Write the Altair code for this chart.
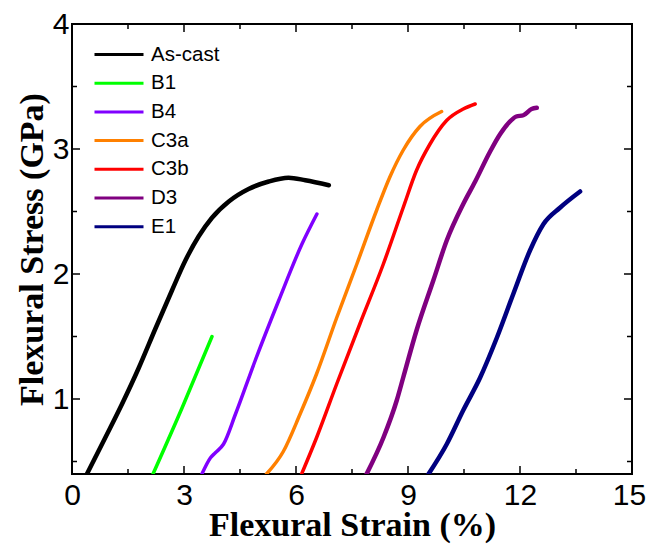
import altair as alt
import pandas as pd

series_names = ["As-cast", "B1", "B4", "C3a", "C3b", "D3", "E1"]
series_colors = ["#000000", "#00FF00", "#8000FF", "#FF8000", "#FF0000", "#800080", "#000080"]
series_widths = [4.5, 3.5, 3.5, 3.5, 3.5, 4.5, 4.5]

ascast_x = [0.40, 0.89, 1.34, 1.79, 2.23, 2.68, 3.04, 3.39, 3.75, 4.20, 4.73, 5.27, 5.80, 6.25, 6.88]
ascast_y = [0.40, 0.69, 0.96, 1.25, 1.56, 1.87, 2.11, 2.30, 2.45, 2.58, 2.68, 2.74, 2.77, 2.75, 2.71]

b1_x = [2.17, 2.95, 3.75]
b1_y = [0.40, 0.93, 1.50]

b4_x = [3.48, 3.71, 3.84, 4.06, 4.38, 4.91, 5.54, 6.16, 6.56]
b4_y = [0.40, 0.53, 0.57, 0.64, 0.88, 1.31, 1.79, 2.24, 2.48]

c3a_x = [5.21, 5.66, 6.11, 6.55, 7.09, 7.63, 8.16, 8.52, 8.87, 9.32, 9.90]
c3a_y = [0.40, 0.58, 0.88, 1.20, 1.65, 2.08, 2.51, 2.78, 2.99, 3.18, 3.30]

c3b_x = [6.15, 6.55, 7.09, 7.71, 8.34, 8.87, 9.23, 9.59, 10.04, 10.48, 10.80]
c3b_y = [0.40, 0.69, 1.12, 1.60, 2.08, 2.53, 2.83, 3.04, 3.23, 3.32, 3.36]

d3_x = [7.89, 8.34, 8.70, 8.87, 9.23, 9.68, 10.04, 10.48, 10.80, 11.20, 11.47, 11.70, 11.90, 12.09, 12.31, 12.45]
d3_y = [0.40, 0.69, 0.99, 1.17, 1.55, 1.95, 2.27, 2.56, 2.74, 2.98, 3.12, 3.21, 3.26, 3.27, 3.32, 3.33]

e1_x = [9.55, 10.04, 10.48, 10.93, 11.38, 11.82, 12.27, 12.63, 13.07, 13.61]
e1_y = [0.40, 0.64, 0.91, 1.17, 1.49, 1.84, 2.19, 2.40, 2.53, 2.66]

x_major = [0, 3, 6, 9, 12, 15]
x_minor = [1.5, 4.5, 7.5, 10.5, 13.5]
y_major = [1, 2, 3, 4]
y_minor = [0.5, 1.5, 2.5, 3.5]

W, H = 560, 450

all_x = [ascast_x, b1_x, b4_x, c3a_x, c3b_x, d3_x, e1_x]
all_y = [ascast_y, b1_y, b4_y, c3a_y, c3b_y, d3_y, e1_y]
rows = []
for name, w, xs, ys in zip(series_names, series_widths, all_x, all_y):
    for i, (xv, yv) in enumerate(zip(xs, ys)):
        rows.append({"series": name, "strain": xv, "stress": yv, "idx": i, "sw": w})
df = pd.DataFrame(rows)

xscale = alt.Scale(domain=[0, 15], nice=False, zero=False)
yscale = alt.Scale(domain=[0.4, 4], nice=False, zero=False)

lines = alt.Chart(df).mark_line(interpolate="monotone", clip=True, strokeCap="round").encode(
    x=alt.X("strain:Q", scale=xscale,
            axis=alt.Axis(values=x_major, format="d", title="Flexural Strain (%)",
                          titleX=W / 2, titleY=61, titleBaseline="alphabetic",
                          labelOffset={"condition": {"test": "datum.value == 15", "value": -3},
                                       "value": 0})),
    y=alt.Y("stress:Q", scale=yscale,
            axis=alt.Axis(values=y_major, format="d", title="Flexural Stress (GPa)",
                          titleX=-30, titleY=H / 2, titleAngle=270,
                          titleBaseline="alphabetic", titleAlign="center")),
    color=alt.Color("series:N",
                    scale=alt.Scale(domain=series_names, range=series_colors),
                    legend=alt.Legend(title=None, orient="none", legendX=35.5, legendY=19,
                                      symbolType="M-2.45,0H2.45", symbolSize=400,
                                      symbolStrokeWidth=3, labelOffset=20.5,
                                      labelFont="Liberation Sans", labelFontSize=20.5,
                                      labelColor="black", rowPadding=6.7, padding=0)),
    strokeWidth=alt.StrokeWidth("sw:Q", scale=None),
    order="idx:Q",
)

tx_major = pd.DataFrame({"v": x_major})
tx_minor = pd.DataFrame({"v": x_minor})
ty_major = pd.DataFrame({"v": y_major})
ty_minor = pd.DataFrame({"v": y_minor})


def xticks(d, length):
    bottom = alt.Chart(d).mark_rule(color="black", strokeWidth=1.5).encode(
        x=alt.X("v:Q", scale=xscale), y=alt.value(H), y2=alt.value(H - length))
    top = alt.Chart(d).mark_rule(color="black", strokeWidth=1.5).encode(
        x=alt.X("v:Q", scale=xscale), y=alt.value(0), y2=alt.value(length))
    return bottom + top


def yticks(d, length):
    left = alt.Chart(d).mark_rule(color="black", strokeWidth=1.5).encode(
        y=alt.Y("v:Q", scale=yscale), x=alt.value(0), x2=alt.value(length))
    right = alt.Chart(d).mark_rule(color="black", strokeWidth=1.5).encode(
        y=alt.Y("v:Q", scale=yscale), x=alt.value(W), x2=alt.value(W - length))
    return left + right


chart = alt.layer(
    lines,
    xticks(tx_major, 8), xticks(tx_minor, 5),
    yticks(ty_major, 8), yticks(ty_minor, 5),
).properties(
    width=W, height=H,
    autosize=alt.AutoSizeParams(type="none"),
    padding={"left": 64, "top": 16, "right": 14, "bottom": 70},
).configure_view(
    stroke="black", strokeWidth=2
).configure_axis(
    grid=False, domain=False, ticks=False, tickSize=0,
    labelFont="Liberation Sans", labelFontSize=30, labelColor="black",
    labelFlush=False, labelOverlap=False,
    titleFont="Liberation Serif", titleFontSize=34, titleFontWeight="bold", titleColor="black",
).configure_axisX(
    labelPadding=6
).configure_axisY(
    labelPadding=3
)

chart.save("out.html", embed_options={"renderer": "svg", "actions": False})
